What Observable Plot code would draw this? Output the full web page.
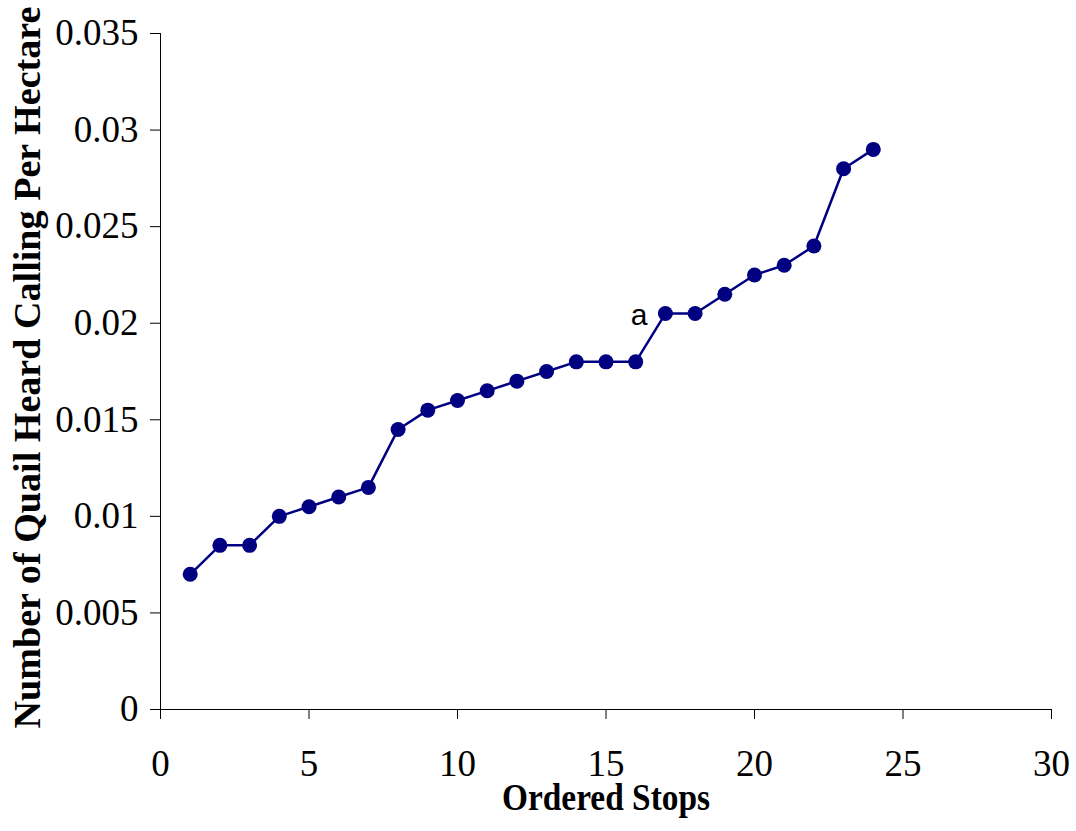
<!DOCTYPE html>
<html>
<head>
<meta charset="utf-8">
<script src="https://cdn.jsdelivr.net/npm/d3@7"></script>
<script src="https://cdn.jsdelivr.net/npm/@observablehq/plot@0.6"></script>
<style>
  html, body { margin: 0; padding: 0; background: #fff; }
</style>
</head>
<body>
<div id="chart"></div>
<script>
const stops = [1,2,3,4,5,6,7,8,9,10,11,12,13,14,15,16,17,18,19,20,21,22,23,24];
const quailPerHectare = [0.007,0.0085,0.0085,0.010,0.0105,0.011,0.0115,0.0145,0.0155,0.016,0.0165,0.017,0.0175,0.018,0.018,0.018,0.0205,0.0205,0.0215,0.0225,0.023,0.024,0.028,0.029];
const xTicks = [0,5,10,15,20,25,30];
const yTicks = [0,0.005,0.01,0.015,0.02,0.025,0.03,0.035];
const annotations = [{x: 17, y: 0.0205, label: "a"}];
const xTitle = "Ordered Stops";
const yTitle = "Number of Quail Heard Calling Per Hectare";

const data = stops.map((s, i) => ({stop: s, value: quailPerHectare[i]}));
const color = "#000080";

const chart = Plot.plot({
  width: 1076,
  height: 831,
  marginLeft: 160,
  marginRight: 25,
  marginTop: 33,
  marginBottom: 122,
  style: {fontFamily: "'Liberation Serif', 'Times New Roman', serif", fontSize: "37px", color: "#000", background: "#fff"},
  x: {domain: [0, 30]},
  y: {domain: [0, 0.035]},
  marks: [
    Plot.axisX({ticks: xTicks, tickSize: 10, tickPadding: 30, tickFormat: d => String(d), label: null, fontSize: 37, stroke: "#000"}),
    Plot.axisY({ticks: yTicks, tickSize: 10, tickPadding: 12, tickFormat: d => String(+d.toFixed(3)), label: null, fontSize: 37, stroke: "#000"}),
    Plot.ruleX([0], {stroke: "#000", strokeWidth: 1}),
    Plot.ruleY([0], {stroke: "#000", strokeWidth: 1}),
    Plot.line(data, {x: "stop", y: "value", stroke: color, strokeWidth: 2.5}),
    Plot.dot(data, {x: "stop", y: "value", r: 7.5, fill: color, stroke: "none"}),
    Plot.text(annotations, {x: "x", y: "y", text: "label", textAnchor: "end", dx: -18, dy: 2, fontSize: 30, fontFamily: "'Liberation Sans', Arial, sans-serif", fill: "#000"}),
    Plot.text([xTitle], {frameAnchor: "bottom", dy: 100, fontWeight: "bold", fontSize: 38, fill: "#000"}),
    Plot.text([yTitle], {frameAnchor: "left", textAnchor: "middle", dx: -133, dy: -4, rotate: -90, fontWeight: "bold", fontSize: 38, fill: "#000"})
  ]
});
document.getElementById("chart").appendChild(chart);

// condense the axis titles horizontally, as in the reference
chart.querySelectorAll("text").forEach(t => {
  if (t.textContent === xTitle) {
    t.setAttribute("textLength", 208);
    t.setAttribute("lengthAdjust", "spacingAndGlyphs");
  }
  if (t.textContent === yTitle) {
    t.setAttribute("textLength", 722);
    t.setAttribute("lengthAdjust", "spacingAndGlyphs");
  }
});
</script>
</body>
</html>
